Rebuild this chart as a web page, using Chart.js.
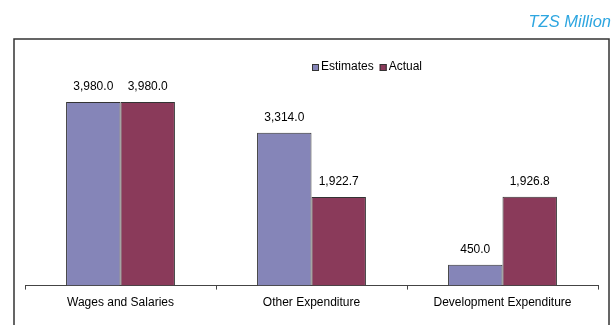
<!DOCTYPE html>
<html>
<head>
<meta charset="utf-8">
<script src="https://cdn.jsdelivr.net/npm/chart.js@4.4.1/dist/chart.umd.min.js"></script>
<style>
  html, body { margin: 0; padding: 0; background: #fff; }
  #wrap { position: relative; width: 616px; height: 325px; }
</style>
</head>
<body>
<div id="wrap"><canvas id="budgetChart" width="616" height="325"></canvas></div>
<script>
    'use strict';

    const categories = ['Wages and Salaries', 'Other Expenditure', 'Development Expenditure'];
    const estimates = [3980.0, 3314.0, 450.0];
    const actual = [3980.0, 1922.7, 1926.8];
    const seriesNames = ['Estimates', 'Actual'];
    const unitLabel = 'TZS Million';

    const FONT = 'Arial, "Liberation Sans", Helvetica, sans-serif';
    const fmt = new Intl.NumberFormat('en-US', { minimumFractionDigits: 1, maximumFractionDigits: 1 });

    // Outer frame, unit caption and the small legend above the bars
    const decorations = {
        id: 'decorations',
        beforeDraw(chart) {
            const c = chart.ctx;
            c.save();
            c.fillStyle = '#fff';
            c.fillRect(0, 0, chart.width, chart.height);

            c.strokeStyle = '#333';
            c.lineWidth = 1.5;
            c.strokeRect(14, 39, 595, 400);

            c.font = 'italic 16.5px ' + FONT;
            c.fillStyle = '#2ea6e0';
            c.textAlign = 'right';
            c.textBaseline = 'alphabetic';
            c.fillText(unitLabel, 611, 27);

            // legend
            c.font = '12px ' + FONT;
            c.textAlign = 'left';
            c.textBaseline = 'middle';
            let x = 312;
            const y = 67;
            chart.data.datasets.forEach(ds => {
                c.fillStyle = ds.backgroundColor;
                c.fillRect(x, y - 3, 7, 7);
                c.strokeStyle = '#333';
                c.lineWidth = 1;
                c.strokeRect(x + 0.5, y - 2.5, 6, 6);
                c.fillStyle = '#000';
                c.fillText(ds.label, x + 9, y);
                x += 9 + c.measureText(ds.label).width + 6;
            });
            c.restore();
        },
        afterDatasetsDraw(chart) {
            const c = chart.ctx;
            c.save();
            c.font = '12px ' + FONT;
            c.fillStyle = '#000';
            c.textAlign = 'center';
            c.textBaseline = 'middle';
            chart.data.datasets.forEach((ds, i) => {
                chart.getDatasetMeta(i).data.forEach((bar, j) => {
                    c.fillText(fmt.format(ds.data[j]), bar.x, bar.y - 15);
                });
            });
            c.restore();
        }
    };

    new Chart(document.getElementById('budgetChart'), {
        type: 'bar',
        data: {
            labels: categories,
            datasets: [{
                label: seriesNames[0],
                data: estimates,
                backgroundColor: '#8585b8',
                borderColor: '#333',
                borderWidth: 1,
                barPercentage: 1.0,
                categoryPercentage: 0.57
            }, {
                label: seriesNames[1],
                data: actual,
                backgroundColor: '#8a3a5a',
                borderColor: '#333',
                borderWidth: 1,
                barPercentage: 1.0,
                categoryPercentage: 0.57
            }]
        },
        options: {
            responsive: false,
            animation: false,
            layout: { padding: { left: 25, right: 18, top: 78, bottom: 9 } },
            scales: {
                x: {
                    grid: { offset: true, drawOnChartArea: false, tickLength: 4, color: '#444' },
                    border: { color: '#444', width: 1 },
                    ticks: { color: '#000', font: { family: FONT, size: 12 }, padding: 6 }
                },
                y: { display: false, min: 0, max: 4500 }
            },
            plugins: {
                legend: { display: false },
                tooltip: { enabled: false }
            }
        },
        plugins: [decorations]
    });
</script>
</body>
</html>
